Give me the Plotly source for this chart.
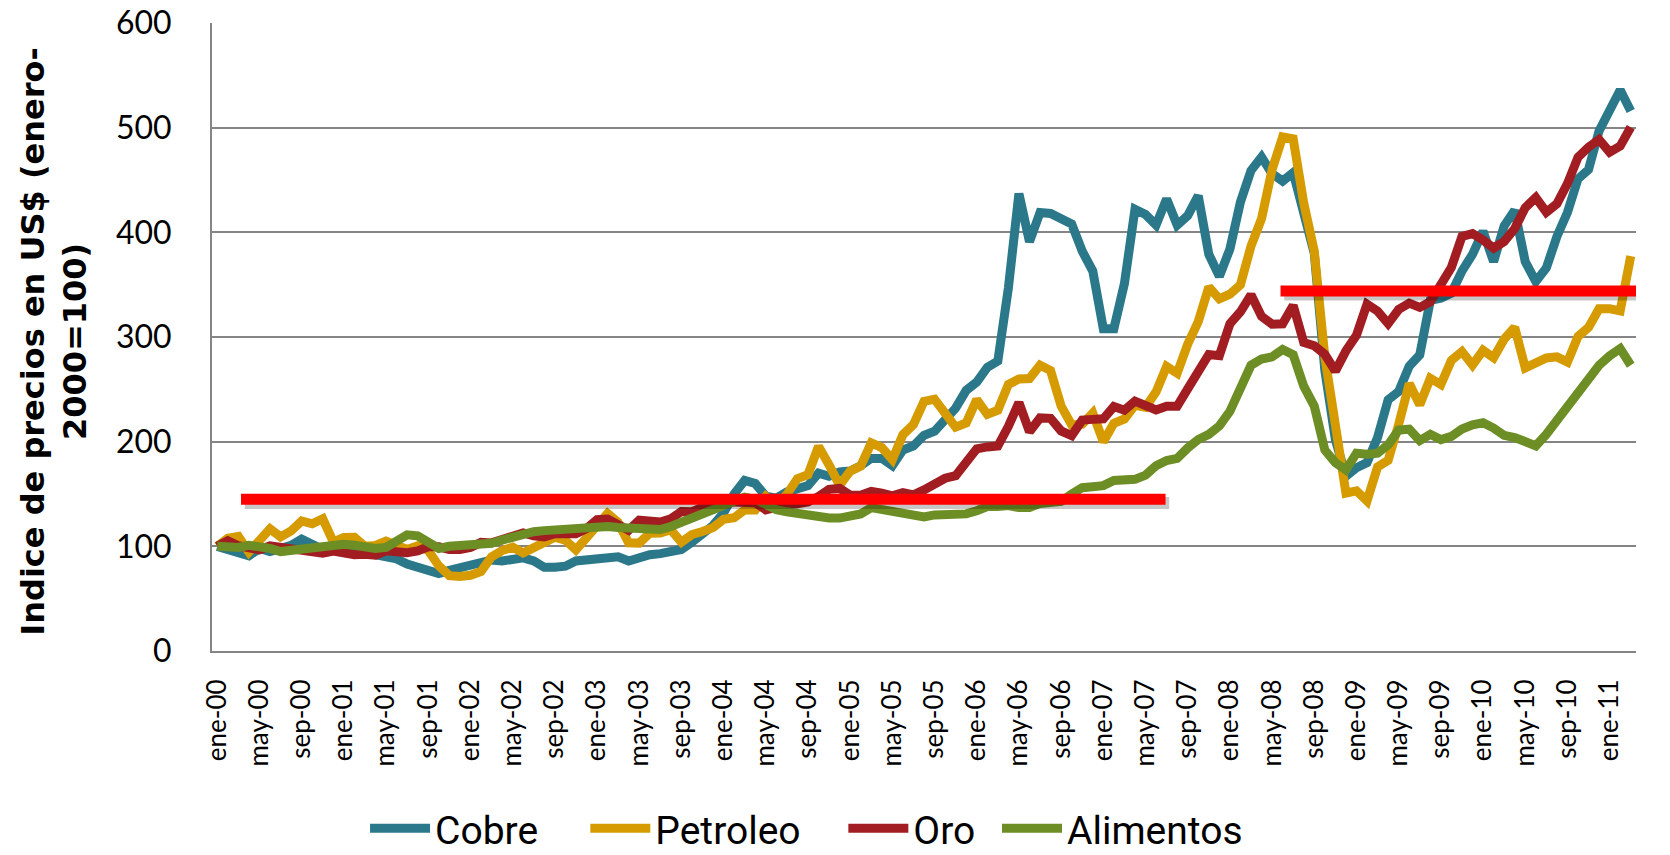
import plotly.graph_objects as go

# ---------------- data ----------------
meses = ['ene', 'feb', 'mar', 'abr', 'may', 'jun', 'jul', 'ago', 'sep', 'oct', 'nov', 'dic']
fechas = [f"{m}-{a:02d}" for a in range(0, 12) for m in meses][:135]

cobre = [100, 98, 94, 91, 98, 95, 98, 101, 107, 103, 97, 100,
         96, 96, 94, 91, 91, 88, 83, 80, 76, 74, 77, 80,
         82, 85, 87, 86, 87, 89, 86, 80, 80, 81, 86, 87,
         90, 91, 90, 86, 90, 92, 93, 96, 97, 104, 112, 120,
         132, 150, 163, 160, 148, 146, 152, 154, 158, 170, 167, 171,
         172, 177, 184, 184, 177, 192, 196, 206, 210, 221, 232, 249,
         257, 271, 277, 347, 437, 391, 419, 418, 413, 408, 382, 363,
         308, 308, 351, 422, 417, 407, 432, 407, 416, 435, 379, 358,
         384, 429, 459, 472, 456, 449, 457, 415, 380, 268, 202, 167,
         175, 180, 204, 240, 248, 272, 283, 335, 337, 342, 363, 379,
         401, 372, 406, 421, 372, 353, 366, 396, 419, 451, 460, 497,
         519, 536, 516]

petroleo = [100, 107.7, 109.5, 94.4, 105.6, 116.7, 109.0, 114.7, 124.3, 121.5, 126.3, 104.3,
            108.5, 108.6, 100.0, 100.8, 105.0, 101.2, 97.0, 100.4, 96.1, 81.3, 72.0, 71.1,
            72.3, 76.0, 90.0, 96.0, 99.2, 93.6, 98.9, 104.1, 108.8, 105.8, 96.7, 108.1,
            120.9, 131.4, 122.9, 103.3, 103.1, 112.5, 112.8, 115.8, 103.9, 111.3, 114.1, 117.9,
            125.9, 127.3, 134.8, 134.8, 147.8, 139.5, 149.6, 164.7, 168.5, 195.5, 177.8, 158.3,
            171.8, 176.6, 198.8, 194.4, 182.8, 206.7, 216.4, 238.4, 240.6, 228.4, 213.9, 217.9,
            240.2, 226.1, 230.0, 254.7, 259.9, 260.3, 273.0, 267.9, 234.0, 216.0, 216.7, 227.3,
            200.0, 217.5, 221.7, 234.7, 232.8, 247.6, 271.9, 265.4, 293.2, 314.7, 347.7, 336.4,
            341.0, 349.9, 386.8, 413.0, 460.0, 491.1, 489.3, 428.0, 381.9, 281.0, 210.2, 150.8,
            153.0, 143.4, 175.9, 182.1, 216.5, 255.5, 235.3, 260.6, 254.6, 277.8, 286.1, 273.2,
            287.3, 280.2, 297.9, 309.2, 270.5, 276.4, 280.0, 281.0, 276.0, 300.4, 309.1, 327.0,
            327.1, 324.9, 377.3]

oro = [100, 105.4, 100.6, 98.3, 96.7, 100.4, 98.9, 96.4, 96.2, 94.9, 93.5, 95.4,
       93.3, 92.0, 92.4, 91.5, 95.7, 95.0, 94.0, 95.7, 99.6, 99.5, 97.0, 96.9,
       98.9, 103.8, 103.3, 106.4, 110.5, 112.9, 110.1, 109.0, 112.1, 111.2, 112.1, 116.8,
       125.4, 126.1, 119.7, 115.3, 125.0, 125.2, 123.3, 126.4, 133.2, 133.1, 137.0, 143.2,
       145.5, 142.3, 142.9, 141.7, 134.9, 137.9, 139.9, 140.7, 142.4, 147.7, 154.4, 155.3,
       149.0, 148.8, 152.6, 150.8, 148.2, 151.3, 149.2, 153.9, 160.2, 165.1, 167.5, 179.2,
       193.2, 195.0, 195.8, 214.6, 237.3, 209.5, 222.7, 222.3, 210.2, 205.8, 220.6, 221.3,
       221.8, 233.6, 230.1, 238.7, 234.3, 230.3, 233.8, 233.8, 250.4, 265.2, 283.3, 282.2,
       312.6, 324.1, 340.3, 319.7, 312.3, 312.6, 330.2, 294.8, 291.6, 283.4, 267.4, 286.8,
       301.7, 331.4, 324.8, 312.8, 326.3, 332.3, 328.3, 333.6, 350.2, 366.6, 396.0, 398.7,
       392.8, 384.9, 391.2, 403.6, 423.6, 433.2, 419.2, 427.2, 446.6, 471.6, 481.4, 488.6,
       476.6, 482.4, 500.4]

alimentos = [100, 99, 99, 101, 100, 98, 95, 96, 97, 98, 100, 102,
             102, 101, 99, 98, 99, 104, 111, 110, 104, 98, 100, 101,
             101, 101, 103, 106, 109, 112, 114, 115, 116, 117, 118, 119,
             119, 119, 118, 117, 116, 116, 116, 119, 123, 128, 132, 135,
             138, 143, 147, 145, 139, 135, 133, 131, 129, 128, 127, 127,
             128, 131, 137, 135, 133, 132, 130, 128, 130, 130, 129, 131,
             134, 138, 138, 139, 137, 137, 141, 141, 143, 150, 156, 157,
             158, 163, 163, 164, 168, 177, 182, 184, 194, 202, 207, 215,
             229, 251, 273, 279, 281, 288, 283, 253, 234, 192, 180, 173,
             189, 188, 189, 197, 211, 212, 201, 207, 202, 205, 212, 216,
             218, 213, 206, 204, 201, 196, 207, 220, 233, 246, 260, 273,
             282, 289, 273]

# average level bars (level, start month index, end month index)
niveles = [145, 344]
inicio = [2.25, 100.8]
fin = [89.9, 137.2]

tick_idx = list(range(0, 135, 4))
tick_txt = [fechas[i] for i in tick_idx]

series = [("Cobre", cobre, "#2A7889"),
          ("Petroleo", petroleo, "#D59B00"),
          ("Oro", oro, "#A11D21"),
          ("Alimentos", alimentos, "#6C8E25")]

FONT = "Lato, 'Open Sans', sans-serif"
LEG_FONT = "Roboto, 'Liberation Sans', sans-serif"

fig = go.Figure()
x = list(range(len(fechas)))
legend_ids = ["legend", "legend2", "legend3", "legend4"]
for (name, vals, col), lid in zip(series, legend_ids):
    fig.add_trace(go.Scatter(x=x, y=vals, name=name, mode="lines", legend=lid,
                             line=dict(color=col, width=9), hoverinfo="skip"))

for lv, a, b in zip(niveles, inicio, fin):
    fig.add_trace(go.Scatter(x=[a + 0.35, b + 0.35], y=[lv - 3.5, lv - 3.5], mode="lines",
                             line=dict(color="rgba(0,0,0,0.22)", width=12),
                             showlegend=False, hoverinfo="skip"))
    fig.add_trace(go.Scatter(x=[a, b], y=[lv, lv], mode="lines",
                             line=dict(color="#FF0000", width=11),
                             showlegend=False, hoverinfo="skip"))

leg_x = [0.2186, 0.3505, 0.505, 0.597]
legends = {}
for lid, lx in zip(legend_ids, leg_x):
    legends[lid] = dict(xref="container", yref="container", x=lx, y=0.031,
                        xanchor="left", yanchor="middle", orientation="h",
                        font=dict(size=39, family=LEG_FONT, color="black"),
                        itemwidth=60, bgcolor="rgba(0,0,0,0)")

fig.update_layout(
    width=1670, height=855,
    margin=dict(l=212, r=34, t=23, b=204, autoexpand=False),
    paper_bgcolor="white", plot_bgcolor="white",
    font=dict(family=FONT, color="black"),
    showlegend=True,
    xaxis=dict(range=[-0.5, 134.5], tickmode="array", tickvals=tick_idx, ticktext=tick_txt,
               tickangle=-90, tickfont=dict(size=26), showgrid=False, zeroline=False,
               showline=True, linecolor="#858585", linewidth=2, ticks="",
               ticklabelstandoff=16, automargin=False),
    yaxis=dict(range=[0, 600], dtick=100, tickfont=dict(size=32), showgrid=True,
               gridcolor="#858585", gridwidth=1.5, zeroline=False, showline=True,
               linecolor="#858585", linewidth=2, ticks="", ticklabelstandoff=32,
               automargin=False),
    annotations=[dict(text="<b>Indice de precios en US$ (enero-<br>2000=100)</b>",
                      xref="paper", yref="paper", x=-0.111, y=0.494, xanchor="center",
                      yanchor="middle", textangle=-90, showarrow=False,
                      font=dict(size=32, family="'DejaVu Sans', sans-serif", color="black"))],
    **legends,
)

fig.write_html("out.html", config={"displayModeBar": False},
               post_script="document.body.style.margin='0';")
